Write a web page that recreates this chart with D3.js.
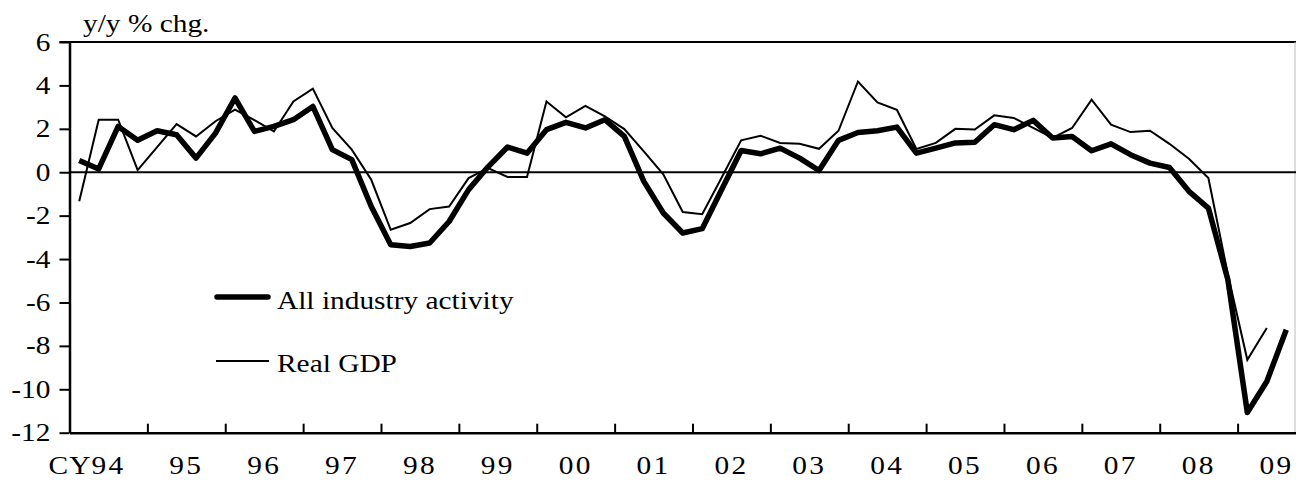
<!DOCTYPE html>
<html>
<head>
<meta charset="utf-8">
<script src="https://cdn.jsdelivr.net/npm/d3@7"></script>
<style>
  body { margin: 0; background: #fff; }
  svg { display: block; }
  text { font-family: "Liberation Serif", "Times New Roman", serif; fill: #000; }
</style>
</head>
<body>
<svg id="chart" width="1296" height="480"></svg>
<script>
// year labels (one per calendar year, quarterly data underneath)
const years = ["94", "95", "96", "97", "98", "99", "00", "01", "02", "03", "04", "05", "06", "07", "08", "09"];
const nQuarters = 63; // CY94 Q1 .. CY09 Q3

// all industry activity, y/y % chg, quarterly from CY94 Q1
const industry = [
  0.54, 0.15, 2.11, 1.47, 1.91, 1.73, 0.65, 1.80,
  3.42, 1.88, 2.11, 2.42, 3.03, 1.04, 0.58, -1.58,
  -3.34, -3.42, -3.26, -2.27, -0.80, 0.25, 1.16, 0.88,
  1.96, 2.30, 2.04, 2.42, 1.65, -0.42, -1.88, -2.80,
  -2.60, -0.80, 1.00, 0.85, 1.11, 0.65, 0.08, 1.47,
  1.83, 1.91, 2.08, 0.88, 1.11, 1.35, 1.38, 2.19,
  1.96, 2.39, 1.58, 1.65, 0.99, 1.31, 0.81, 0.42,
  0.22, -0.88, -1.65, -4.95, -11.07, -9.64, -7.26
];

// real GDP, y/y % chg, quarterly from CY94 Q1
const gdp = [
  -1.34, 2.42, 2.42, 0.10, 1.16, 2.22, 1.65, 2.35,
  2.88, 2.40, 1.88, 3.26, 3.85, 2.04, 1.04, -0.35,
  -2.65, -2.34, -1.70, -1.58, -0.27, 0.19, -0.22, -0.22,
  3.26, 2.53, 3.06, 2.57, 1.99, 0.96, -0.10, -1.83,
  -1.93, -0.24, 1.47, 1.68, 1.35, 1.31, 1.08, 1.91,
  4.18, 3.22, 2.88, 1.07, 1.35, 2.00, 1.97, 2.62,
  2.50, 2.04, 1.58, 2.04, 3.34, 2.19, 1.85, 1.91,
  1.31, 0.62, -0.27, -4.70, -8.64, -7.18
];

const yTicks = [6, 4, 2, 0, -2, -4, -6, -8, -10, -12];

const svg = d3.select("#chart");
const m = { left: 69.5, right: 1296, top: 42, bottom: 432.7 };
const fs = 26, sx = 1.13; // text is slightly wider than tall in the source

const x = d3.scaleLinear().domain([0, nQuarters]).range([m.left, m.right]);
const y = d3.scaleLinear().domain([-12, 6]).range([m.bottom, m.top]);

function stext(g, tx, ty, str, anchor) {
  return g.append("text")
    .attr("transform", `translate(${tx},${ty}) scale(${sx},1)`)
    .attr("text-anchor", anchor || "start")
    .attr("font-size", fs + "px")
    .text(str);
}

// frame
svg.append("line").attr("x1", m.left - 10).attr("x2", m.right).attr("y1", y(6)).attr("y2", y(6))
  .attr("stroke", "#000").attr("stroke-width", 2);
svg.append("line").attr("x1", m.right - 1).attr("x2", m.right - 1).attr("y1", y(6)).attr("y2", m.bottom)
  .attr("stroke", "#bbb").attr("stroke-width", 1);
svg.append("line").attr("x1", m.left).attr("x2", m.right).attr("y1", y(0)).attr("y2", y(0))
  .attr("stroke", "#000").attr("stroke-width", 2);

// y axis
const yAxis = svg.append("g").attr("transform", `translate(${m.left},0)`)
  .call(d3.axisLeft(y).tickValues(yTicks).tickSize(10).tickSizeOuter(0).tickFormat(d3.format("d")));
yAxis.select(".domain").attr("stroke-width", 2.5);
yAxis.selectAll(".tick line").attr("stroke-width", 2);
yAxis.selectAll(".tick text").remove();
yTicks.forEach(v => {
  stext(svg, m.left - 19, y(v) + 8.5, String(v), "end");
});

// x axis with year-boundary ticks pointing up
const xAxis = svg.append("g").attr("transform", `translate(0,${m.bottom})`)
  .call(d3.axisBottom(x).tickValues(d3.range(4, nQuarters, 4)).tickSize(-9).tickSizeOuter(0).tickFormat(""));
xAxis.select(".domain").attr("stroke-width", 2.5);
xAxis.selectAll(".tick line").attr("stroke-width", 2);

const labG = svg.append("g");
years.forEach((yr, i) => {
  const t = stext(labG, x(i * 4 + 2), 474, yr, "middle").attr("letter-spacing", "2px");
  if (i === 0) {
    const w = t.node().getComputedTextLength() * sx;
    stext(labG, x(2) - w / 2, 474, "CY", "end").attr("letter-spacing", "1px");
  }
});

// title
stext(svg, 83, 32, "y/y % chg.");

// lines
const line = d3.line().x((d, i) => x(i + 0.5)).y(d => y(d));
svg.append("path").datum(gdp).attr("d", line)
  .attr("fill", "none").attr("stroke", "#000").attr("stroke-width", 2).attr("stroke-linejoin", "miter");
svg.append("path").datum(industry).attr("d", line)
  .attr("fill", "none").attr("stroke", "#000").attr("stroke-width", 5.5).attr("stroke-linejoin", "round");

// legend
const leg = svg.append("g");
leg.append("line").attr("x1", 217).attr("x2", 268).attr("y1", 297).attr("y2", 297)
  .attr("stroke", "#000").attr("stroke-width", 5.5).attr("stroke-linecap", "round");
stext(leg, 277, 309, "All industry activity");
leg.append("line").attr("x1", 216).attr("x2", 269).attr("y1", 361).attr("y2", 361)
  .attr("stroke", "#000").attr("stroke-width", 2);
stext(leg, 277, 372, "Real GDP");
</script>
</body>
</html>
